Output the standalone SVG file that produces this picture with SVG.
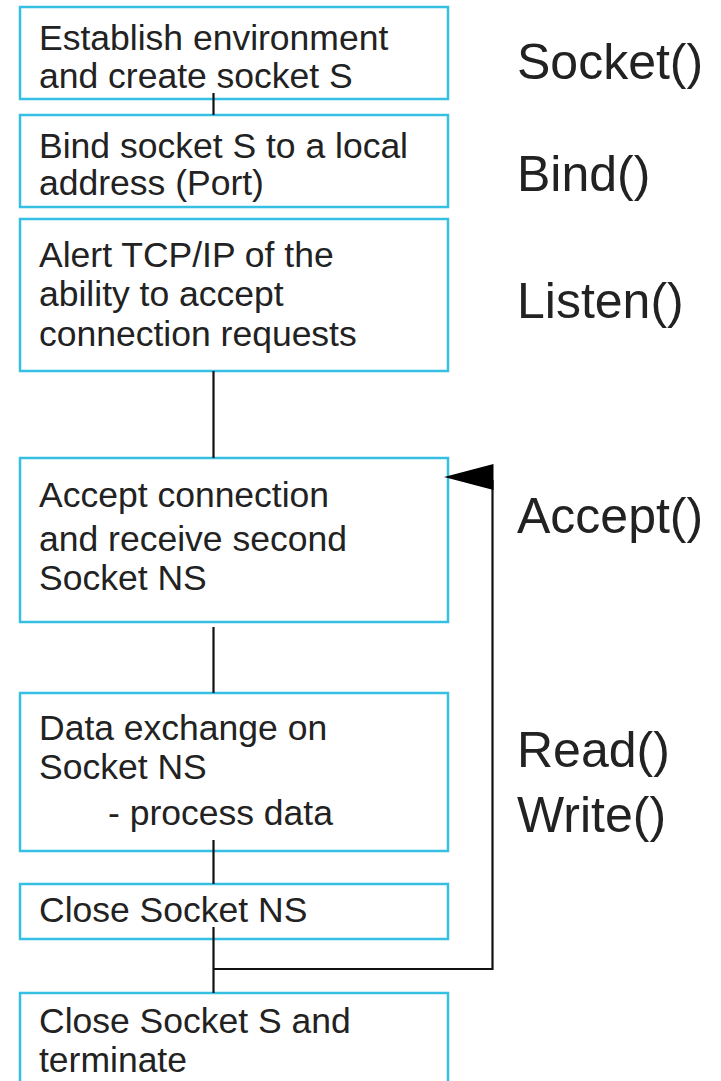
<svg xmlns="http://www.w3.org/2000/svg" width="721" height="1081" viewBox="0 0 721 1081">
  <style>
    .box { fill: #ffffff; stroke: #35bfe2; stroke-width: 2.5; }
    .txt { font-family: "Liberation Sans", Arial, sans-serif; font-size: 35.5px; fill: #222222; }
    .call { font-family: "Liberation Sans", Arial, sans-serif; font-size: 50px; fill: #222222; }
    .wire { fill: none; stroke: #111111; stroke-width: 2.2; }
  </style>
  <rect width="721" height="1081" fill="#ffffff"/>

  <!-- flow steps -->
  <g id="step-socket">
    <rect class="box" x="20" y="7" width="428" height="92"/>
    <text class="txt" x="39" y="50">Establish environment</text>
    <text class="txt" x="39" y="88">and create socket S</text>
  </g>
  <g id="step-bind">
    <rect class="box" x="20" y="115" width="428" height="92"/>
    <text class="txt" x="39" y="158">Bind socket S to a local</text>
    <text class="txt" x="39" y="195">address (Port)</text>
  </g>
  <g id="step-listen">
    <rect class="box" x="20" y="219" width="428" height="152"/>
    <text class="txt" x="39" y="267">Alert TCP/IP of the</text>
    <text class="txt" x="39" y="306">ability to accept</text>
    <text class="txt" x="39" y="346">connection requests</text>
  </g>
  <g id="step-accept">
    <rect class="box" x="20" y="458" width="428" height="164"/>
    <text class="txt" x="39" y="507">Accept connection</text>
    <text class="txt" x="39" y="551">and receive second</text>
    <text class="txt" x="39" y="590">Socket NS</text>
  </g>
  <g id="step-data">
    <rect class="box" x="20" y="693" width="428" height="158"/>
    <text class="txt" x="39" y="740">Data exchange on</text>
    <text class="txt" x="39" y="779">Socket NS</text>
    <text class="txt" x="108" y="825">- process data</text>
  </g>
  <g id="step-close-ns">
    <rect class="box" x="20" y="884" width="428" height="55"/>
    <text class="txt" x="39" y="922">Close Socket NS</text>
  </g>
  <g id="step-close-s">
    <rect class="box" x="20" y="993" width="428" height="110"/>
    <text class="txt" x="39" y="1033">Close Socket S and</text>
    <text class="txt" x="39" y="1072">terminate</text>
  </g>

  <!-- connectors -->
  <g id="connectors">
    <line class="wire" x1="213.5" y1="93" x2="213.5" y2="115"/>
    <line class="wire" x1="213.5" y1="371" x2="213.5" y2="458"/>
    <line class="wire" x1="213.5" y1="627" x2="213.5" y2="693"/>
    <line class="wire" x1="213.5" y1="840" x2="213.5" y2="884"/>
    <line class="wire" x1="213.5" y1="927" x2="213.5" y2="993"/>
    <polyline class="wire" points="213.5,969 492.5,969 492.5,480"/>
    <polygon points="444,477 493.5,464 493.5,490" fill="#000000"/>
  </g>

  <!-- socket API calls -->
  <g id="api-calls">
    <text class="call" x="517" y="79">Socket()</text>
    <text class="call" x="517" y="191">Bind()</text>
    <text class="call" x="517" y="318">Listen()</text>
    <text class="call" x="517" y="533">Accept()</text>
    <text class="call" x="517" y="767">Read()</text>
    <text class="call" x="517" y="832">Write()</text>
  </g>
</svg>
